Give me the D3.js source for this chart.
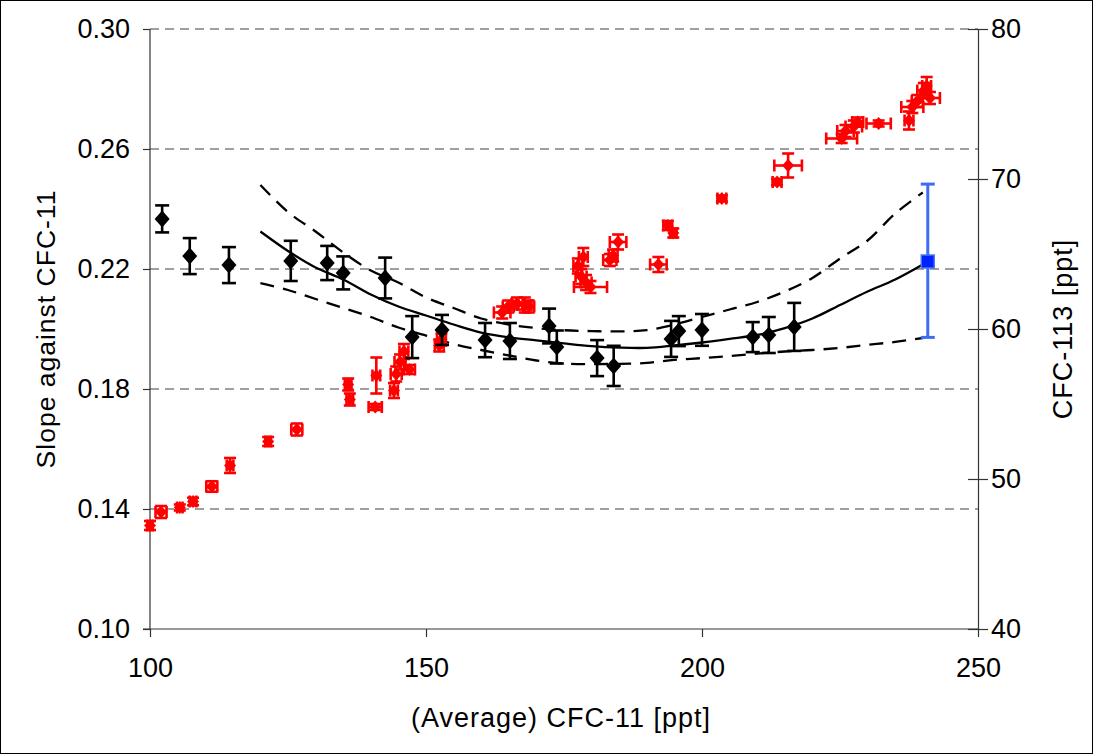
<!DOCTYPE html>
<html>
<head>
<meta charset="utf-8">
<script src="https://cdn.jsdelivr.net/npm/d3@7"></script>
<style>
  body { margin: 0; background: #fff; }
  svg { display: block; font-family: "Liberation Sans", Arial, sans-serif; }
</style>
</head>
<body>
<svg id="chart"></svg>
<script>
// slope of CFC-113 against CFC-11 (left axis), black diamonds
const slopeX   = [102.2, 107.2, 114.3, 125.5, 132.1, 135.0, 142.6, 147.5, 152.9, 160.7, 165.2, 172.3, 173.7, 181.0, 184.0, 194.4, 195.8, 200.0, 209.2, 212.1, 216.7];
const slopeY   = [0.2367, 0.2243, 0.2213, 0.2227, 0.2220, 0.2187, 0.2170, 0.1973, 0.1997, 0.1963, 0.1960, 0.2010, 0.1940, 0.1903, 0.1877, 0.1967, 0.1993, 0.1997, 0.1973, 0.1980, 0.2007];
const slopeErr = [0.0045, 0.0060, 0.0060, 0.0067, 0.0057, 0.0055, 0.0068, 0.0070, 0.0050, 0.0057, 0.0060, 0.0058, 0.0055, 0.0060, 0.0067, 0.0060, 0.0050, 0.0053, 0.0050, 0.0060, 0.0080];

// fitted curve and its bounds
const fitX     = [120, 125, 130, 135, 140, 145, 150, 155, 160, 165, 170, 175, 180, 185, 190, 195, 200, 205, 210, 215, 220, 225, 230, 235, 240];
const fitMid   = [0.2325, 0.2260, 0.2205, 0.2165, 0.2115, 0.2075, 0.2045, 0.2015, 0.1988, 0.1972, 0.1962, 0.1952, 0.1943, 0.1938, 0.1937, 0.1945, 0.1955, 0.1967, 0.1980, 0.2003, 0.2035, 0.2080, 0.2125, 0.2165, 0.2215];
const fitHigh  = [0.2480, 0.2390, 0.2325, 0.2255, 0.2195, 0.2155, 0.2105, 0.2070, 0.2035, 0.2015, 0.2003, 0.1996, 0.1993, 0.1992, 0.1996, 0.2015, 0.2040, 0.2065, 0.2090, 0.2125, 0.2170, 0.2235, 0.2295, 0.2385, 0.2455];
const fitLow   = [0.2153, 0.2130, 0.2100, 0.2070, 0.2040, 0.2005, 0.1978, 0.1950, 0.1930, 0.1912, 0.1895, 0.1885, 0.1883, 0.1884, 0.1887, 0.1897, 0.1903, 0.1910, 0.1918, 0.1925, 0.1930, 0.1937, 0.1947, 0.1957, 0.1970];

// present-day value
const nowX = 240.9, nowY = 0.2225, nowLo = 0.1972, nowHi = 0.2483;

// CFC-113 against CFC-11 (right axis), red
const cfcX  = [100.0, 102.0, 105.4, 107.8, 111.2, 114.5, 121.4, 126.6, 135.9, 136.2, 140.8, 141.0, 144.2, 144.6, 145.3, 146.0, 147.0, 152.4, 152.8, 163.8, 164.9, 166.5, 167.9, 168.6, 177.5, 178.1, 178.5, 179.0, 179.8, 183.3, 183.9, 184.8, 192.1, 193.8, 194.8, 203.6, 213.6, 215.6, 225.3, 226.0, 227.5, 228.2, 232.0, 237.5, 238.1, 239.0, 240.2, 240.7, 241.3];
const cfcY  = [46.9, 47.8, 48.1, 48.5, 49.5, 50.9, 52.5, 53.3, 56.3, 55.3, 54.8, 56.9, 55.9, 57.0, 57.8, 58.5, 57.3, 58.9, 59.3, 61.1, 61.5, 61.7, 61.6, 61.5, 64.2, 63.5, 64.8, 63.1, 62.8, 64.6, 64.9, 65.8, 64.3, 66.9, 66.4, 68.7, 69.8, 70.9, 72.7, 73.2, 73.5, 73.8, 73.7, 73.9, 74.8, 75.2, 75.9, 76.2, 75.4];
const cfcXe = [0.5, 1.0, 0.5, 0.6, 1.0, 0.6, 0.5, 1.0, 0.6, 0.6, 1.2, 0.7, 0.7, 1.0, 1.0, 0.8, 1.0, 0.8, 0.8, 1.5, 1.0, 1.0, 1.2, 1.0, 0.8, 1.0, 0.8, 1.0, 3.0, 1.2, 0.8, 1.5, 1.5, 0.8, 0.6, 0.8, 0.8, 2.5, 2.8, 1.5, 1.5, 1.0, 2.2, 0.8, 2.0, 1.0, 1.2, 0.8, 1.8];
const cfcYe = [0.3, 0.4, 0.2, 0.25, 0.35, 0.5, 0.3, 0.4, 0.4, 0.4, 0.2, 1.2, 0.5, 0.5, 0.5, 0.5, 0.3, 0.4, 0.4, 0.4, 0.4, 0.4, 0.5, 0.4, 0.5, 0.5, 0.6, 0.5, 0.4, 0.4, 0.4, 0.5, 0.5, 0.3, 0.3, 0.2, 0.2, 0.8, 0.3, 0.4, 0.4, 0.3, 0.2, 0.6, 0.4, 0.4, 0.5, 0.6, 0.4];

const xTicks  = [100, 150, 200, 250];
const yTicks  = [0.10, 0.14, 0.18, 0.22, 0.26, 0.30];
const y2Ticks = [40, 50, 60, 70, 80];

const width = 1093, height = 754;
const margin = {top: 29, right: 115, bottom: 125, left: 150};

const svg = d3.select("#chart").attr("width", width).attr("height", height);

svg.append("rect")
  .attr("x", 0.5).attr("y", 0.5)
  .attr("width", width - 1).attr("height", height - 1)
  .attr("fill", "none").attr("stroke", "#000");

const x = d3.scaleLinear().domain([100, 250]).range([margin.left, width - margin.right]);
const y = d3.scaleLinear().domain([0.10, 0.30]).range([height - margin.bottom, margin.top]);
const y2 = d3.scaleLinear().domain([40, 80]).range([height - margin.bottom, margin.top]);

// grid
svg.append("g")
  .selectAll("line")
  .data(yTicks.slice(1))
  .join("line")
  .attr("x1", x(100)).attr("x2", x(250))
  .attr("y1", d => y(d)).attr("y2", d => y(d))
  .attr("stroke", "#808080")
  .attr("stroke-width", 1.3)
  .attr("stroke-dasharray", "9,6");

// axes
const axisColor = "#333";
const gl = svg.append("g")
  .attr("transform", `translate(${x(100)},0)`)
  .call(d3.axisLeft(y).tickValues(yTicks).tickFormat(d3.format(".2f")).tickSize(7).tickSizeOuter(0).tickPadding(13));
const gb = svg.append("g")
  .attr("transform", `translate(0,${y(0.10)})`)
  .call(d3.axisBottom(x).tickValues(xTicks).tickSize(8).tickSizeOuter(0).tickPadding(21));
const gr = svg.append("g")
  .attr("transform", `translate(${x(250)},0)`)
  .call(d3.axisRight(y2).tickValues(y2Ticks).tickSize(10).tickSizeOuter(0).tickPadding(3));
gr.selectAll(".tick line").attr("x1", -10);

[gl, gb, gr].forEach(g => {
  g.selectAll(".domain, .tick line").attr("stroke", axisColor).attr("stroke-width", 1.2);
  g.selectAll("text").attr("font-size", 27).attr("fill", "#000")
    .attr("font-family", "'Liberation Sans', Arial, sans-serif");
});
gl.select(".domain").attr("d", `M0,${y(0.10)}V${y(0.30)}`);
gb.select(".domain").attr("d", `M${x(100) - 7},0H${x(250)}`);

// titles
svg.append("text")
  .attr("x", (x(100) + x(250)) / 2 - 3).attr("y", 727)
  .attr("text-anchor", "middle").attr("font-size", 27).attr("letter-spacing", 1)
  .text("(Average) CFC-11 [ppt]");
svg.append("text")
  .attr("transform", `translate(55,${(y(0.10) + y(0.30)) / 2}) rotate(-90)`)
  .attr("text-anchor", "middle").attr("font-size", 26.5).attr("letter-spacing", 1)
  .text("Slope against CFC-11");
svg.append("text")
  .attr("transform", `translate(1072,${(y(0.10) + y(0.30)) / 2}) rotate(-90)`)
  .attr("text-anchor", "middle").attr("font-size", 27).attr("letter-spacing", 1)
  .text("CFC-113 [ppt]");

const diamond = (cx, cy, w, h) => `M${cx},${cy - h}L${cx + w},${cy}L${cx},${cy + h}L${cx - w},${cy}Z`;

// fit lines
const line = d3.line().x(d => x(d[0])).y(d => y(d[1])).curve(d3.curveCatmullRom);
const curves = [[fitMid, null], [fitHigh, "14,9"], [fitLow, "14,9"]];
curves.forEach(([vals, dash]) => {
  svg.append("path")
    .datum(fitX.map((v, i) => [v, vals[i]]))
    .attr("d", line)
    .attr("fill", "none").attr("stroke", "#000")
    .attr("stroke-width", 2.3)
    .attr("stroke-dasharray", dash);
});

// red series
const red = svg.append("g").attr("stroke", "#ff0000").attr("stroke-width", 2.6);
cfcX.forEach((cx, i) => {
  const px = x(cx), py = y2(cfcY[i]);
  const x0 = x(cx - cfcXe[i]), x1 = x(cx + cfcXe[i]);
  const y0 = y2(cfcY[i] - cfcYe[i]), y1 = y2(cfcY[i] + cfcYe[i]);
  red.append("line").attr("x1", x0).attr("x2", x1).attr("y1", py).attr("y2", py);
  red.append("line").attr("x1", x0).attr("x2", x0).attr("y1", py - 6).attr("y2", py + 6);
  red.append("line").attr("x1", x1).attr("x2", x1).attr("y1", py - 6).attr("y2", py + 6);
  red.append("line").attr("x1", px).attr("x2", px).attr("y1", y0).attr("y2", y1);
  red.append("line").attr("x1", px - 6).attr("x2", px + 6).attr("y1", y0).attr("y2", y0);
  red.append("line").attr("x1", px - 6).attr("x2", px + 6).attr("y1", y1).attr("y2", y1);
  red.append("path").attr("d", diamond(px, py, 6, 6.5)).attr("fill", "#ff0000").attr("stroke", "none");
});

// black series
const blk = svg.append("g").attr("stroke", "#000").attr("stroke-width", 2.6);
slopeX.forEach((sx, i) => {
  const px = x(sx), py = y(slopeY[i]);
  const y0 = y(slopeY[i] - slopeErr[i]), y1 = y(slopeY[i] + slopeErr[i]);
  blk.append("line").attr("x1", px).attr("x2", px).attr("y1", y0).attr("y2", y1);
  blk.append("line").attr("x1", px - 7).attr("x2", px + 7).attr("y1", y0).attr("y2", y0);
  blk.append("line").attr("x1", px - 7).attr("x2", px + 7).attr("y1", y1).attr("y2", y1);
  blk.append("path").attr("d", diamond(px, py, 7.5, 8.5)).attr("fill", "#000").attr("stroke", "none");
});

// blue present-day point
const blue = svg.append("g").attr("stroke", "#3d6cf5").attr("stroke-width", 3);
blue.append("line").attr("x1", x(nowX)).attr("x2", x(nowX)).attr("y1", y(nowLo)).attr("y2", y(nowHi));
blue.append("line").attr("x1", x(nowX) - 7).attr("x2", x(nowX) + 7).attr("y1", y(nowLo)).attr("y2", y(nowLo));
blue.append("line").attr("x1", x(nowX) - 7).attr("x2", x(nowX) + 7).attr("y1", y(nowHi)).attr("y2", y(nowHi));
blue.append("rect")
  .attr("x", x(nowX) - 6.5).attr("y", y(nowY) - 6.5)
  .attr("width", 13).attr("height", 13)
  .attr("fill", "#0022ff").attr("stroke", "#4a78f0").attr("stroke-width", 1.5);
</script>
</body>
</html>
